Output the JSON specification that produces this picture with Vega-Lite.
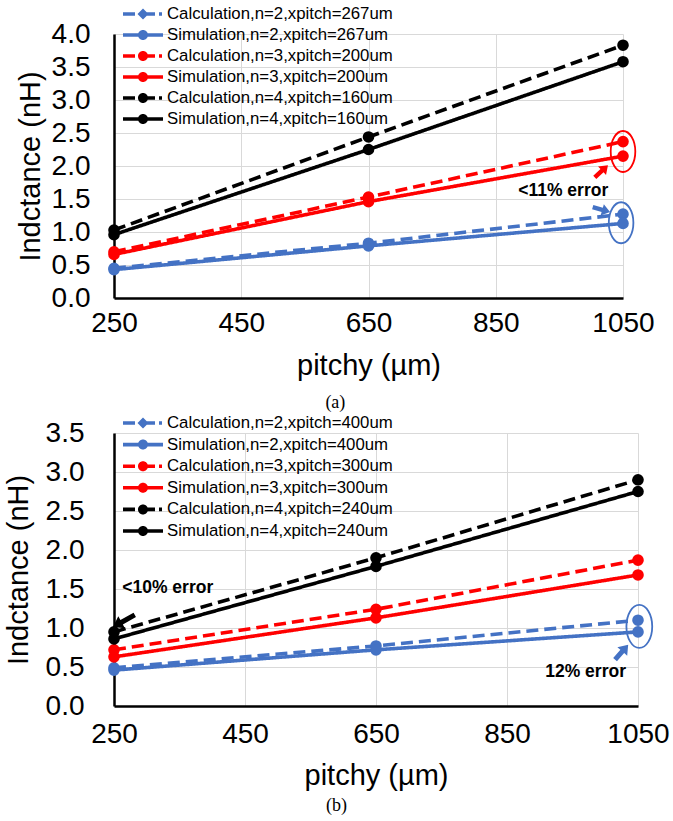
{
  "$schema": "https://vega.github.io/schema/vega-lite/v6.json",
  "padding": {"left": 4, "top": 4, "right": 0, "bottom": 0},
  "background": "white",
  "spacing": 1,
  "datasets": {
    "a": [
      {"series": "Calculation,n=2,xpitch=267um", "pitch": 250, "L": 0.45},
      {"series": "Calculation,n=2,xpitch=267um", "pitch": 650, "L": 0.83},
      {"series": "Calculation,n=2,xpitch=267um", "pitch": 1050, "L": 1.27},
      {"series": "Simulation,n=2,xpitch=267um", "pitch": 250, "L": 0.43},
      {"series": "Simulation,n=2,xpitch=267um", "pitch": 650, "L": 0.79},
      {"series": "Simulation,n=2,xpitch=267um", "pitch": 1050, "L": 1.13},
      {"series": "Calculation,n=3,xpitch=200um", "pitch": 250, "L": 0.70},
      {"series": "Calculation,n=3,xpitch=200um", "pitch": 650, "L": 1.53},
      {"series": "Calculation,n=3,xpitch=200um", "pitch": 1050, "L": 2.37},
      {"series": "Simulation,n=3,xpitch=200um", "pitch": 250, "L": 0.66},
      {"series": "Simulation,n=3,xpitch=200um", "pitch": 650, "L": 1.46},
      {"series": "Simulation,n=3,xpitch=200um", "pitch": 1050, "L": 2.15},
      {"series": "Calculation,n=4,xpitch=160um", "pitch": 250, "L": 1.03},
      {"series": "Calculation,n=4,xpitch=160um", "pitch": 650, "L": 2.44},
      {"series": "Calculation,n=4,xpitch=160um", "pitch": 1050, "L": 3.83},
      {"series": "Simulation,n=4,xpitch=160um", "pitch": 250, "L": 0.96},
      {"series": "Simulation,n=4,xpitch=160um", "pitch": 650, "L": 2.25},
      {"series": "Simulation,n=4,xpitch=160um", "pitch": 1050, "L": 3.58}
    ],
    "b": [
      {"series": "Calculation,n=2,xpitch=400um", "pitch": 250, "L": 0.49},
      {"series": "Calculation,n=2,xpitch=400um", "pitch": 650, "L": 0.77},
      {"series": "Calculation,n=2,xpitch=400um", "pitch": 1050, "L": 1.10},
      {"series": "Simulation,n=2,xpitch=400um", "pitch": 250, "L": 0.46},
      {"series": "Simulation,n=2,xpitch=400um", "pitch": 650, "L": 0.72},
      {"series": "Simulation,n=2,xpitch=400um", "pitch": 1050, "L": 0.95},
      {"series": "Calculation,n=3,xpitch=300um", "pitch": 250, "L": 0.72},
      {"series": "Calculation,n=3,xpitch=300um", "pitch": 650, "L": 1.24},
      {"series": "Calculation,n=3,xpitch=300um", "pitch": 1050, "L": 1.87},
      {"series": "Simulation,n=3,xpitch=300um", "pitch": 250, "L": 0.63},
      {"series": "Simulation,n=3,xpitch=300um", "pitch": 650, "L": 1.13},
      {"series": "Simulation,n=3,xpitch=300um", "pitch": 1050, "L": 1.68},
      {"series": "Calculation,n=4,xpitch=240um", "pitch": 250, "L": 0.95},
      {"series": "Calculation,n=4,xpitch=240um", "pitch": 650, "L": 1.90},
      {"series": "Calculation,n=4,xpitch=240um", "pitch": 1050, "L": 2.90},
      {"series": "Simulation,n=4,xpitch=240um", "pitch": 250, "L": 0.86},
      {"series": "Simulation,n=4,xpitch=240um", "pitch": 650, "L": 1.79},
      {"series": "Simulation,n=4,xpitch=240um", "pitch": 1050, "L": 2.75}
    ]
  },
  "config": {
    "view": {"stroke": null},
    "font": "Liberation Sans",
    "axis": {
      "labelFont": "Liberation Sans", "titleFont": "Liberation Sans",
      "labelColor": "black", "titleColor": "black",
      "labelFontSize": 28, "titleFontSize": 29, "titleFontWeight": "normal",
      "gridColor": "#d9d9d9", "gridWidth": 1,
      "domainColor": "black", "domainWidth": 2.5,
      "ticks": false, "tickSize": 0,
      "labelFlush": false, "labelOverlap": false, "labelBound": false
    },
    "legend": {
      "labelFont": "Liberation Sans", "labelFontSize": 16.8, "labelColor": "black",
      "symbolSize": 400, "symbolStrokeWidth": 0, "labelOffset": 24, "rowPadding": 2,
      "labelLimit": 400, "padding": 0, "offset": 0, "symbolOpacity": 1
    }
  },
  "resolve": {
    "scale": {"color": "independent", "strokeDash": "independent", "shape": "independent", "x": "independent", "y": "independent"},
    "legend": {"color": "independent", "shape": "independent"}
  },
  "vconcat": [
    {
      "width": 509,
      "height": 264,
      "title": {"text": "(a)", "orient": "bottom", "anchor": "middle", "frame": "bounds", "font": "Liberation Serif", "fontSize": 18, "fontWeight": "normal", "color": "black", "offset": 14},
      "layer": [
        {
          "data": {"name": "a"},
          "mark": {"type": "line", "strokeWidth": 3.6},
          "encoding": {
            "x": {"field": "pitch", "type": "quantitative", "scale": {"domain": [250, 1050], "nice": false, "zero": false},
                  "axis": {"title": "pitchy (µm)", "values": [250, 450, 650, 850, 1050], "tickCount": 10, "format": "d", "grid": true, "labelOverlap": false, "labelPadding": 11, "titlePadding": 14}},
            "y": {"field": "L", "type": "quantitative", "scale": {"domain": [0, 4], "nice": false},
                  "axis": {"title": "Indctance (nH)", "values": [0, 0.5, 1, 1.5, 2, 2.5, 3, 3.5, 4], "tickCount": 20, "format": ".1f", "grid": true, "labelOverlap": false, "labelPadding": 24, "titlePadding": 5.5}},
            "color": {"field": "series", "type": "nominal",
                      "scale": {"domain": ["Calculation,n=2,xpitch=267um", "Simulation,n=2,xpitch=267um", "Calculation,n=3,xpitch=200um", "Simulation,n=3,xpitch=200um", "Calculation,n=4,xpitch=160um", "Simulation,n=4,xpitch=160um"],
                                "range": ["#4472C4", "#4472C4", "#FF0000", "#FF0000", "#000000", "#000000"]}},
            "strokeDash": {"field": "series", "type": "nominal", "legend": null,
                      "scale": {"domain": ["Calculation,n=2,xpitch=267um", "Simulation,n=2,xpitch=267um", "Calculation,n=3,xpitch=200um", "Simulation,n=3,xpitch=200um", "Calculation,n=4,xpitch=160um", "Simulation,n=4,xpitch=160um"],
                                "range": [[12, 6], [1, 0], [12, 6], [1, 0], [12, 6], [1, 0]]}}
          }
        },
        {
          "data": {"name": "a"},
          "mark": {"type": "point", "filled": true, "size": 135, "opacity": 1},
          "encoding": {
            "x": {"field": "pitch", "type": "quantitative"},
            "y": {"field": "L", "type": "quantitative"},
            "color": {"field": "series", "type": "nominal"}
          }
        },
        {
          "data": {"name": "a"},
          "transform": [{"filter": "false"}],
          "mark": {"type": "point", "filled": true, "opacity": 1},
          "encoding": {
            "x": {"field": "pitch", "type": "quantitative"},
            "y": {"field": "L", "type": "quantitative"},
            "color": {"field": "series", "type": "nominal", "legend": {"title": null, "orient": "none", "legendX": 9, "legendY": -30}},
            "shape": {"field": "series", "type": "nominal", "legend": {"title": null, "orient": "none", "legendX": 9, "legendY": -30},
                      "scale": {"domain": ["Calculation,n=2,xpitch=267um", "Simulation,n=2,xpitch=267um", "Calculation,n=3,xpitch=200um", "Simulation,n=3,xpitch=200um", "Calculation,n=4,xpitch=160um", "Simulation,n=4,xpitch=160um"],
                                "range": [
                                  "M-1,-0.18L0.2,-0.18L0.2,0.18L-1,0.18Z M1,-0.55L1.55,0L1,0.55L0.45,0Z M1.3,-0.18L2.2,-0.18L2.2,0.18L1.3,0.18Z M2.6,-0.18L2.9,-0.18L2.9,0.18L2.6,0.18Z",
                                  "M-1,-0.18L3,-0.18L3,0.18L-1,0.18Z M0.5,0A0.5,0.5 0 1,1 1.5,0A0.5,0.5 0 1,1 0.5,0Z",
                                  "M-1,-0.18L0.2,-0.18L0.2,0.18L-1,0.18Z M0.5,0A0.5,0.5 0 1,1 1.5,0A0.5,0.5 0 1,1 0.5,0Z M1.3,-0.18L2.2,-0.18L2.2,0.18L1.3,0.18Z M2.6,-0.18L2.9,-0.18L2.9,0.18L2.6,0.18Z",
                                  "M-1,-0.18L3,-0.18L3,0.18L-1,0.18Z M0.5,0A0.5,0.5 0 1,1 1.5,0A0.5,0.5 0 1,1 0.5,0Z",
                                  "M-1,-0.18L0.2,-0.18L0.2,0.18L-1,0.18Z M0.5,0A0.5,0.5 0 1,1 1.5,0A0.5,0.5 0 1,1 0.5,0Z M1.3,-0.18L2.2,-0.18L2.2,0.18L1.3,0.18Z M2.6,-0.18L2.9,-0.18L2.9,0.18L2.6,0.18Z",
                                  "M-1,-0.18L3,-0.18L3,0.18L-1,0.18Z M0.5,0A0.5,0.5 0 1,1 1.5,0A0.5,0.5 0 1,1 0.5,0Z"
                                ]}}
          }
        },
        {
          "data": {"values": [{"pitch": 1050, "L": 2.22}]},
          "mark": {"type": "point", "shape": "M0,-1A0.6,1 0 1,1 0,1A0.6,1 0 1,1 0,-1Z", "size": 1681, "filled": false, "stroke": "#FF0000", "strokeWidth": 1.8, "opacity": 1},
          "encoding": {"x": {"field": "pitch", "type": "quantitative"}, "y": {"field": "L", "type": "quantitative"}}
        },
        {
          "data": {"values": [{"pitch": 1047, "L": 1.14}]},
          "mark": {"type": "point", "shape": "M0,-1A0.6,1 0 1,1 0,1A0.6,1 0 1,1 0,-1Z", "size": 1681, "filled": false, "stroke": "#4472C4", "strokeWidth": 1.8, "opacity": 1},
          "encoding": {"x": {"field": "pitch", "type": "quantitative"}, "y": {"field": "L", "type": "quantitative"}}
        },
        {
          "data": {"values": [{"pitch": 1016, "L": 1.92}]},
          "mark": {"type": "point", "shape": "M-1,-0.25L0.1,-0.25L0.1,-0.65L1,0L0.1,0.65L0.1,0.25L-1,0.25Z", "size": 324, "angle": 317, "filled": true, "color": "#FF0000", "opacity": 1},
          "encoding": {"x": {"field": "pitch", "type": "quantitative"}, "y": {"field": "L", "type": "quantitative"}}
        },
        {
          "data": {"values": [{"pitch": 1016, "L": 1.34}]},
          "mark": {"type": "point", "shape": "M-1,-0.25L0.1,-0.25L0.1,-0.65L1,0L0.1,0.65L0.1,0.25L-1,0.25Z", "size": 324, "angle": 16, "filled": true, "color": "#4472C4", "opacity": 1},
          "encoding": {"x": {"field": "pitch", "type": "quantitative"}, "y": {"field": "L", "type": "quantitative"}}
        },
        {
          "data": {"values": [{"pitch": 956, "L": 1.62, "label": "<11% error"}]},
          "mark": {"type": "text", "font": "Liberation Sans", "fontSize": 17.5, "fontWeight": "bold", "color": "black", "align": "center", "baseline": "middle"},
          "encoding": {"x": {"field": "pitch", "type": "quantitative"}, "y": {"field": "L", "type": "quantitative"}, "text": {"field": "label"}}
        }
      ]
    },
    {
      "width": 524,
      "height": 273,
      "title": {"text": "(b)", "orient": "bottom", "anchor": "middle", "frame": "bounds", "font": "Liberation Serif", "fontSize": 18, "fontWeight": "normal", "color": "black", "offset": 7},
      "layer": [
        {
          "data": {"name": "b"},
          "mark": {"type": "line", "strokeWidth": 3.6},
          "encoding": {
            "x": {"field": "pitch", "type": "quantitative", "scale": {"domain": [250, 1050], "nice": false, "zero": false},
                  "axis": {"title": "pitchy (µm)", "values": [250, 450, 650, 850, 1050], "tickCount": 10, "format": "d", "grid": true, "labelOverlap": false, "labelPadding": 14, "titlePadding": 13}},
            "y": {"field": "L", "type": "quantitative", "scale": {"domain": [0, 3.5], "nice": false},
                  "axis": {"title": "Indctance (nH)", "values": [0, 0.5, 1, 1.5, 2, 2.5, 3, 3.5], "tickCount": 20, "format": ".1f", "grid": true, "labelOverlap": false, "labelPadding": 30, "titlePadding": 12}},
            "color": {"field": "series", "type": "nominal",
                      "scale": {"domain": ["Calculation,n=2,xpitch=400um", "Simulation,n=2,xpitch=400um", "Calculation,n=3,xpitch=300um", "Simulation,n=3,xpitch=300um", "Calculation,n=4,xpitch=240um", "Simulation,n=4,xpitch=240um"],
                                "range": ["#4472C4", "#4472C4", "#FF0000", "#FF0000", "#000000", "#000000"]}},
            "strokeDash": {"field": "series", "type": "nominal", "legend": null,
                      "scale": {"domain": ["Calculation,n=2,xpitch=400um", "Simulation,n=2,xpitch=400um", "Calculation,n=3,xpitch=300um", "Simulation,n=3,xpitch=300um", "Calculation,n=4,xpitch=240um", "Simulation,n=4,xpitch=240um"],
                                "range": [[12, 6], [1, 0], [12, 6], [1, 0], [12, 6], [1, 0]]}}
          }
        },
        {
          "data": {"name": "b"},
          "mark": {"type": "point", "filled": true, "size": 135, "opacity": 1},
          "encoding": {
            "x": {"field": "pitch", "type": "quantitative"},
            "y": {"field": "L", "type": "quantitative"},
            "color": {"field": "series", "type": "nominal"}
          }
        },
        {
          "data": {"name": "b"},
          "transform": [{"filter": "false"}],
          "mark": {"type": "point", "filled": true, "opacity": 1},
          "encoding": {
            "x": {"field": "pitch", "type": "quantitative"},
            "y": {"field": "L", "type": "quantitative"},
            "color": {"field": "series", "type": "nominal", "legend": {"title": null, "orient": "none", "legendX": 9, "legendY": -20, "rowPadding": 2.6}},
            "shape": {"field": "series", "type": "nominal", "legend": {"title": null, "orient": "none", "legendX": 9, "legendY": -20, "rowPadding": 2.6},
                      "scale": {"domain": ["Calculation,n=2,xpitch=400um", "Simulation,n=2,xpitch=400um", "Calculation,n=3,xpitch=300um", "Simulation,n=3,xpitch=300um", "Calculation,n=4,xpitch=240um", "Simulation,n=4,xpitch=240um"],
                                "range": [
                                  "M-1,-0.18L0.2,-0.18L0.2,0.18L-1,0.18Z M1,-0.55L1.55,0L1,0.55L0.45,0Z M1.3,-0.18L2.2,-0.18L2.2,0.18L1.3,0.18Z M2.6,-0.18L2.9,-0.18L2.9,0.18L2.6,0.18Z",
                                  "M-1,-0.18L3,-0.18L3,0.18L-1,0.18Z M0.5,0A0.5,0.5 0 1,1 1.5,0A0.5,0.5 0 1,1 0.5,0Z",
                                  "M-1,-0.18L0.2,-0.18L0.2,0.18L-1,0.18Z M0.5,0A0.5,0.5 0 1,1 1.5,0A0.5,0.5 0 1,1 0.5,0Z M1.3,-0.18L2.2,-0.18L2.2,0.18L1.3,0.18Z M2.6,-0.18L2.9,-0.18L2.9,0.18L2.6,0.18Z",
                                  "M-1,-0.18L3,-0.18L3,0.18L-1,0.18Z M0.5,0A0.5,0.5 0 1,1 1.5,0A0.5,0.5 0 1,1 0.5,0Z",
                                  "M-1,-0.18L0.2,-0.18L0.2,0.18L-1,0.18Z M0.5,0A0.5,0.5 0 1,1 1.5,0A0.5,0.5 0 1,1 0.5,0Z M1.3,-0.18L2.2,-0.18L2.2,0.18L1.3,0.18Z M2.6,-0.18L2.9,-0.18L2.9,0.18L2.6,0.18Z",
                                  "M-1,-0.18L3,-0.18L3,0.18L-1,0.18Z M0.5,0A0.5,0.5 0 1,1 1.5,0A0.5,0.5 0 1,1 0.5,0Z"
                                ]}}
          }
        },
        {
          "data": {"values": [{"pitch": 1052, "L": 1.02}]},
          "mark": {"type": "point", "shape": "M0,-1A0.6,1 0 1,1 0,1A0.6,1 0 1,1 0,-1Z", "size": 1849, "filled": false, "stroke": "#4472C4", "strokeWidth": 1.8, "opacity": 1},
          "encoding": {"x": {"field": "pitch", "type": "quantitative"}, "y": {"field": "L", "type": "quantitative"}}
        },
        {
          "data": {"values": [{"pitch": 265, "L": 1.09}]},
          "mark": {"type": "point", "shape": "M-1,-0.2L0.2,-0.2L0.2,-0.55L1,0L0.2,0.55L0.2,0.2L-1,0.2Z", "size": 625, "angle": 151, "filled": true, "color": "#000000", "opacity": 1},
          "encoding": {"x": {"field": "pitch", "type": "quantitative"}, "y": {"field": "L", "type": "quantitative"}}
        },
        {
          "data": {"values": [{"pitch": 1025, "L": 0.69}]},
          "mark": {"type": "point", "shape": "M-1,-0.25L0.1,-0.25L0.1,-0.65L1,0L0.1,0.65L0.1,0.25L-1,0.25Z", "size": 400, "angle": 311, "filled": true, "color": "#4472C4", "opacity": 1},
          "encoding": {"x": {"field": "pitch", "type": "quantitative"}, "y": {"field": "L", "type": "quantitative"}}
        },
        {
          "data": {"values": [{"pitch": 332, "L": 1.51, "label": "<10% error"}, {"pitch": 970, "L": 0.44, "label": "12% error"}]},
          "mark": {"type": "text", "font": "Liberation Sans", "fontSize": 17.5, "fontWeight": "bold", "color": "black", "align": "center", "baseline": "middle"},
          "encoding": {"x": {"field": "pitch", "type": "quantitative"}, "y": {"field": "L", "type": "quantitative"}, "text": {"field": "label"}}
        }
      ]
    }
  ]
}
